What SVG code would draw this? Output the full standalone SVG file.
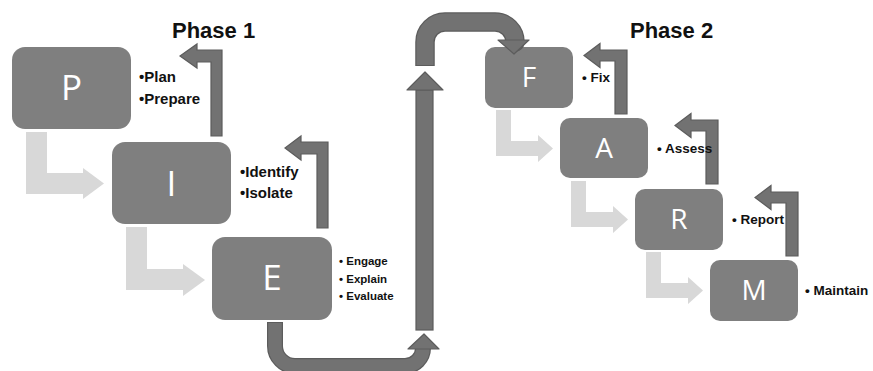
<svg xmlns="http://www.w3.org/2000/svg" width="873" height="371" viewBox="0 0 873 371">
  <style>
    .node { fill: #7f7f7f; }
    .letter { fill: #ffffff; font-family: "Open Sans", "Noto Sans", sans-serif; text-anchor: middle; }
    .big { font-size: 35px; }
    .small { font-size: 28px; }
    .step { fill: #d8d8d8; }
    .back { fill: #727272; stroke: #5c5c5c; stroke-width: 1.2; }
    .flow { fill: none; stroke: #5c5c5c; stroke-linejoin: round; }
    .flowin { fill: none; stroke: #727272; stroke-linejoin: round; }
    .head { fill: #727272; stroke: #5c5c5c; stroke-width: 1.2; stroke-linejoin: round; }
    .title { font-family: "Liberation Sans", Arial, sans-serif; font-weight: bold; font-size: 22px; fill: #111; }
    .note { font-family: "Liberation Sans", Arial, sans-serif; font-weight: bold; fill: #111; }
  </style>

  <!-- headings -->
  <text class="title" x="172" y="38">Phase 1</text>
  <text class="title" x="630" y="38">Phase 2</text>

  <!-- phase 1 nodes -->
  <g id="node-p">
    <rect class="node" x="12" y="47" width="119" height="82" rx="13"/>
    <text class="letter big" x="71.5" y="100">P</text>
  </g>
  <g id="node-i">
    <rect class="node" x="112" y="142" width="119" height="82" rx="13"/>
    <text class="letter big" x="171.5" y="196">I</text>
  </g>
  <g id="node-e">
    <rect class="node" x="212" y="237" width="120" height="83" rx="13"/>
    <text class="letter big" x="272" y="290">E</text>
  </g>

  <!-- phase 2 nodes -->
  <g id="node-f">
    <rect class="node" x="485" y="47" width="88" height="61" rx="10"/>
    <text class="letter small" x="529" y="87">F</text>
  </g>
  <g id="node-a">
    <rect class="node" x="560" y="118" width="88" height="60" rx="10"/>
    <text class="letter small" x="604" y="158">A</text>
  </g>
  <g id="node-r">
    <rect class="node" x="635" y="189" width="88" height="61" rx="10"/>
    <text class="letter small" x="679" y="229">R</text>
  </g>
  <g id="node-m">
    <rect class="node" x="710" y="260" width="88" height="61" rx="10"/>
    <text class="letter small" x="754" y="300">M</text>
  </g>

  <g id="connectors">
    <!-- light step arrows, phase 1 -->
    <polygon class="step" points="26,132 47,132 47,173 83,173 83,168 104,183.5 83,199 83,194 26,194"/>
    <polygon class="step" points="126,227 147,227 147,269 183,269 183,264 205,280 183,296 183,290 126,290"/>
    <!-- light step arrows, phase 2 -->
    <polygon class="step" points="496,110 511,110 511,141 538,141 538,135 553,148.5 538,162 538,156 496,156"/>
    <polygon class="step" points="571,181 586,181 586,212 613,212 613,206 628,219.5 613,233 613,227 571,227"/>
    <polygon class="step" points="646,252 661,252 661,283 688,283 688,277 703,290.5 688,304 688,298 646,298"/>

    <!-- return arrows, phase 1 -->
    <polygon class="back" points="211,136 211,62 197,62 197,68 180,56 197,44 197,50 222,50 222,136"/>
    <polygon class="back" points="317,228 317,154 301,154 301,160 285,148 301,136 301,142 328,142 328,228"/>
    <!-- return arrows, phase 2 -->
    <polygon class="back" transform="translate(584,55.5)" points="31,58.5 31,5.5 16,5.5 16,12 0,0 16,-12 16,-5.5 43,-5.5 43,58.5"/>
    <polygon class="back" transform="translate(675,125.5)" points="31,58.5 31,5.5 16,5.5 16,12 0,0 16,-12 16,-5.5 43,-5.5 43,58.5"/>
    <polygon class="back" transform="translate(755,197.5)" points="31,58.5 31,5.5 16,5.5 16,12 0,0 16,-12 16,-5.5 43,-5.5 43,58.5"/>

    <!-- E down and across to the riser -->
    <path class="flow" stroke-width="16" d="M275,322 V346 A20,20 0 0 0 295,366 H405 A18,18 0 0 0 423,348"/>
    <path class="flowin" stroke-width="13.6" d="M275,323 V346 A20,20 0 0 0 295,366 H405 A18,18 0 0 0 423,348"/>
    <polygon class="head" points="408,349 424,334 439,349"/>

    <!-- riser between phases -->
    <rect class="back" x="416" y="90" width="17" height="240"/>
    <polygon class="head" points="407,90 425,72 443,90"/>

    <!-- arch over to F, head resting on the box -->
    <path class="flow" stroke-width="19.5" d="M425,66 V42 A20,20 0 0 1 445,22 H495 A20,20 0 0 1 515,42 V40"/>
    <path class="flowin" stroke-width="17" d="M425,65 V42 A20,20 0 0 1 445,22 H495 A20,20 0 0 1 515,42 V40"/>
    <polygon class="head" points="498,40 514,54 529,40"/>
  </g>

  <!-- notes beside each step -->
  <g id="notes">
    <text class="note" font-size="15" x="139" y="82">•Plan</text>
    <text class="note" font-size="15" x="139" y="104">•Prepare</text>
    <text class="note" font-size="15" x="240" y="177">•Identify</text>
    <text class="note" font-size="15" x="240" y="198">•Isolate</text>
    <text class="note" font-size="11.5" x="339" y="265">• Engage</text>
    <text class="note" font-size="11.5" x="339" y="283">• Explain</text>
    <text class="note" font-size="11.5" x="339" y="300">• Evaluate</text>
    <text class="note" font-size="13.5" x="582" y="82">• Fix</text>
    <text class="note" font-size="13.5" x="657" y="153">• Assess</text>
    <text class="note" font-size="13.5" x="732" y="224">• Report</text>
    <text class="note" font-size="13.5" x="805" y="295">• Maintain</text>
  </g>
</svg>
